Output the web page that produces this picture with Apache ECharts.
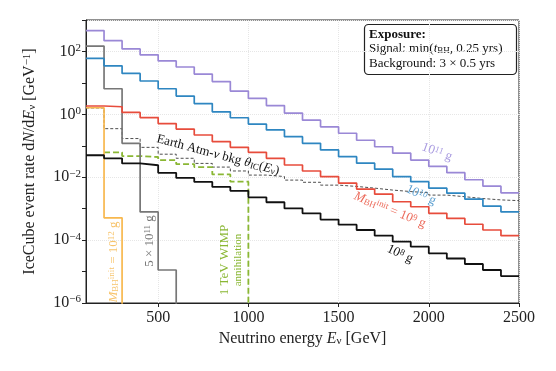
<!DOCTYPE html>
<html>
<head>
<meta charset="utf-8">
<script src="https://cdn.jsdelivr.net/npm/echarts@6.0.0/dist/echarts.min.js"></script>
<style>
html,body{margin:0;padding:0;background:#fff}
#main{width:556px;height:371px}
</style>
</head>
<body>
<div id="main"></div>
<script>
// bin edges in GeV, 100 GeV wide bins
const binEdges = [100,200,300,400,500,600,700,800,900,1000,1100,1200,1300,1400,1500,1600,1700,1800,1900,2000,2100,2200,2300,2400,2500];
const xTicks = [500,1000,1500,2000,2500];

// event rates per bin [GeV^-1], 0 = empty bin, null = not drawn
const rate1e11 = [460,220,120,78,50,32,19,11,5.5,3.2,1.9,1.1,0.65,0.40,0.25,0.15,0.093,0.058,0.035,0.022,0.014,0.0083,0.0052,0.0032];
const rate1e10 = [60,35,20,11.5,6.5,3.8,2.2,1.2,0.78,0.49,0.32,0.195,0.12,0.074,0.045,0.028,0.018,0.0105,0.0072,0.0045,0.0031,0.002,0.0012,0.00079];
const rate1e9  = [1.84,1.74,1.15,0.79,0.51,0.34,0.22,0.135,0.089,0.062,0.040,0.0245,0.0158,0.0105,0.0065,0.0042,0.0029,0.00166,0.00115,0.00071,0.00049,0.00032,0.00021,0.000138];
const rate1e8  = [0.050,0.040,0.0275,0.024,0.0138,0.0095,0.0071,0.0049,0.0037,0.0023,0.0016,0.00102,0.00071,0.00045,0.00031,0.00021,0.000138,8.9e-5,6.2e-5,3.8e-5,2.6e-5,1.74e-5,1.12e-5,7.2e-6];
const rate5e11 = [148,6.5,0.12,7.9e-4,1.12e-5,0];
const rate1e12 = [1.62,5.1e-4,0];
const wimp1TeV = [null,0.062,0.047,0.044,0.035,0.026,0.021,0.0123,0.0072,0];
const atmBkg   = [1.6,0.35,0.17,0.089,0.054,0.040,0.0275,0.021,0.0158,0.0117,0.0105,0.0081,0.0069,0.0056,0.0051,0.0045,0.0039,0.0035,0.0032,0.0027,0.0024,0.0021,0.0019,0.0018];

const serif = 'Liberation Serif';

function steps(vals) {
  const pts = [];
  vals.forEach((v, i) => {
    if (v == null) return;
    pts.push([binEdges[i], v > 0 ? v : 1e-12]);
  });
  const last = vals[vals.length - 1];
  if (last > 0) pts.push([binEdges[vals.length], last]);
  return pts;
}

function hist(name, vals, color, width, type) {
  return {
    name: name, type: 'line', step: 'end', symbol: 'none',
    data: steps(vals),
    lineStyle: {color: color, width: width, type: type || 'solid'},
    animation: false
  };
}

const rich = {
  n: {fontFamily: serif, fontSize: 13},
  i: {fontFamily: serif, fontSize: 13, fontStyle: 'italic'},
  sup: {fontFamily: serif, fontSize: 9, verticalAlign: 'top', lineHeight: 9},
  sub: {fontFamily: serif, fontSize: 9, verticalAlign: 'bottom', lineHeight: 9}
};

function note(text, x, y, deg, color, size) {
  const r = {};
  Object.keys(rich).forEach(k => {
    r[k] = Object.assign({}, rich[k], {fill: color});
    if (size && (k == 'n' || k == 'i')) r[k].fontSize = size;
  });
  return {
    type: 'text', x: x, y: y, rotation: deg * Math.PI / 180, z: 100,
    style: {text: text, rich: r, align: 'center', verticalAlign: 'middle', fill: color}
  };
}

var myChart = echarts.init(document.getElementById('main'));
myChart.setOption({
  animation: false,
  grid: {left: 86, right: 37, top: 20, bottom: 68, show: true, borderColor: '#222', borderWidth: 1},
  xAxis: {
    type: 'value', min: 100, max: 2500,
    name: 'Neutrino energy {i|E}{sub|ν} [GeV]',
    nameLocation: 'middle', nameGap: 28,
    nameTextStyle: {fontFamily: serif, fontSize: 16, color: '#222',
      rich: {i: {fontFamily: serif, fontSize: 16, fontStyle: 'italic'}, sub: {fontFamily: serif, fontSize: 11, verticalAlign: 'bottom', lineHeight: 11}}},
    axisLine: {show: true, lineStyle: {color: '#222'}},
    axisTick: {show: true, customValues: xTicks, length: 4, lineStyle: {color: '#222'}},
    axisLabel: {customValues: xTicks, fontFamily: serif, fontSize: 16, color: '#222', margin: 7,
      formatter: v => String(v)},
    splitLine: {show: true, lineStyle: {color: '#e6e6e6', type: 'dotted'}}
  },
  yAxis: [{
    type: 'log', logBase: 10, min: 1e-6, max: 1e3, interval: 1,
    name: 'IceCube event rate d{i|N}/d{i|E}{sub|ν} [GeV{sup|−1}]',
    nameLocation: 'middle', nameGap: 48, nameRotate: 90,
    nameTextStyle: {fontFamily: serif, fontSize: 16, color: '#222',
      rich: {i: {fontFamily: serif, fontSize: 16, fontStyle: 'italic'},
        sub: {fontFamily: serif, fontSize: 11, verticalAlign: 'bottom', lineHeight: 11},
        sup: {fontFamily: serif, fontSize: 11, verticalAlign: 'top', lineHeight: 11}}},
    axisLine: {show: true, lineStyle: {color: '#222'}},
    axisTick: {show: true, length: 4, lineStyle: {color: '#222'}},
    axisLabel: {
      margin: 5,
      formatter: function (v) {
        const e = Math.round(Math.log10(v));
        if (e % 2) return '';
        return '{b|10}{s|' + (e < 0 ? '−' : '') + Math.abs(e) + '}';
      },
      rich: {
        b: {fontFamily: serif, fontSize: 16, color: '#222', lineHeight: 18},
        s: {fontFamily: serif, fontSize: 11, color: '#222', verticalAlign: 'top', lineHeight: 10}
      }
    },
    splitLine: {show: false}
  }, {
    type: 'log', logBase: 10, min: 1e-6, max: 1e3, interval: 2,
    axisLine: {show: false}, axisTick: {show: false}, axisLabel: {show: false},
    splitLine: {show: true, lineStyle: {color: '#e6e6e6', type: 'dotted'}}
  }],
  series: [
    hist('Earth Atm-nu bkg', atmBkg, '#222', 0.8, [3, 2]),
    hist('1 TeV WIMP', wimp1TeV, '#8ab734', 1.8, [6, 3]),
    hist('1e12 g', rate1e12, '#f8b84e', 1.7),
    hist('5e11 g', rate5e11, '#777777', 1.7),
    hist('1e8 g', rate1e8, '#111111', 1.8),
    hist('1e9 g', rate1e9, '#e74c3c', 1.7),
    hist('1e10 g', rate1e10, '#2e86c1', 1.7),
    hist('1e11 g', rate1e11, '#9a88d6', 1.7)
  ],
  graphic: [
    {type: 'group', z: 200, children: [
      {type: 'rect', shape: {x: 364.5, y: 24.5, width: 152, height: 50, r: 4},
        style: {fill: '#fff', stroke: '#222', lineWidth: 1.2}},
      {type: 'text', x: 369, y: 35, style: {text: 'Exposure:', font: 'bold 13px ' + serif, fill: '#111', verticalAlign: 'middle'}},
      {type: 'text', x: 369, y: 49, style: {text: '{n|Signal: min(}{i|t}{sub|BH}{n|, 0.25 yrs)}', fill: '#111', verticalAlign: 'middle',
        rich: {n: {fontFamily: serif, fontSize: 13}, i: {fontFamily: serif, fontSize: 13, fontStyle: 'italic'}, sub: {fontFamily: serif, fontSize: 9, verticalAlign: 'bottom', lineHeight: 9}}}},
      {type: 'text', x: 369, y: 64, style: {text: 'Background: 3 × 0.5 yrs', font: '13px ' + serif, fill: '#111', verticalAlign: 'middle'}}
    ]},
    note('{n|10}{sup|11}{n| g}', 437, 152, -20, '#a99be0'),
    note('{n|10}{sup|10}{n| g}', 421, 195, -25, '#5b9fd0'),
    note('{i|M}{sub|BH}{sup|init}{n| = 10}{sup|9}{n| g}', 390, 210, -22, '#ec6a5a'),
    note('{n|10}{sup|8}{n| g}', 400, 254, -25, '#111'),
    note('{n|Earth Atm-}{i|ν}{n| bkg }{i|θ}{sub|IC}{n|(}{i|E}{sub|ν}{n|)}', 218, 155, -15, '#111'),
    note('{i|M}{sub|BH}{sup|init}{n| = 10}{sup|12}{n| g}', 114, 262, 90, '#f7c46c'),
    note('{n|5 × 10}{sup|11}{n| g}', 150, 241, 90, '#777'),
    note('{n|1 TeV WIMP}', 225, 260, 90, '#8ab734'),
    note('{n|annihilation}', 238, 260, 90, '#8ab734', 11)
  ]
});
</script>
</body>
</html>
